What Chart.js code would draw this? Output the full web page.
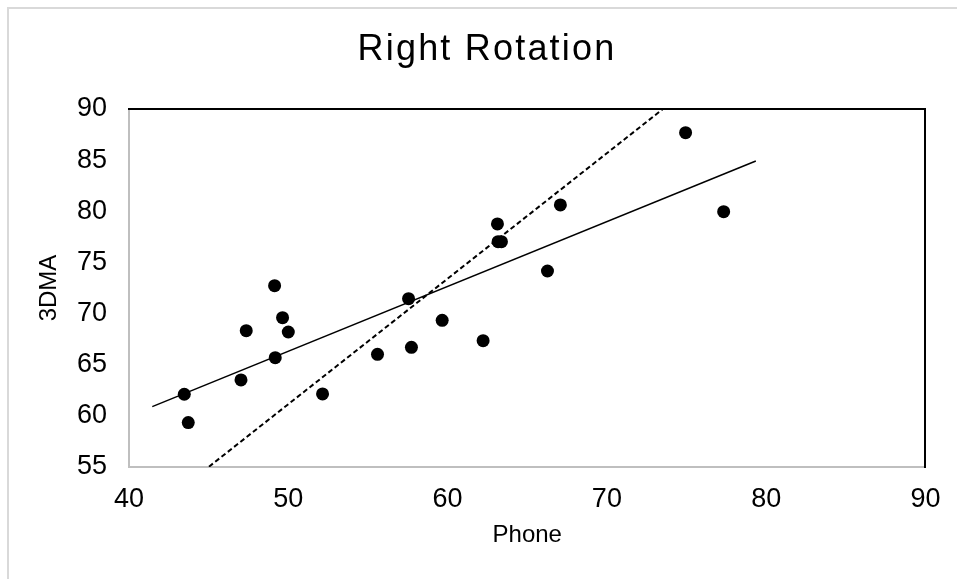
<!DOCTYPE html>
<html>
<head>
<meta charset="utf-8">
<script src="https://cdn.jsdelivr.net/npm/chart.js@4.4.1/dist/chart.umd.min.js"></script>
<style>
html, body { margin: 0; padding: 0; background: #fff; }
#wrap { position: relative; width: 957px; height: 579px; overflow: hidden; }
#frame { position: absolute; left: 7px; top: 7px; width: 1000px; height: 1000px;
  border-left: 2px solid #d9d9d9; border-top: 2px solid #d9d9d9; pointer-events: none; }
canvas { display: block; }
</style>
</head>
<body>
<div id="wrap">
  <canvas id="c" width="957" height="579"></canvas>
  <div id="frame"></div>
</div>
<script>
// Observed data
const phone = [43.47, 43.72, 47.03, 47.36, 49.14, 49.18, 49.64, 50.00, 52.15, 55.60, 57.55,
               57.73, 59.66, 62.23, 63.13, 63.17, 63.38, 66.27, 67.08, 74.94, 77.33];
const dma   = [62.11, 59.34, 63.51, 68.33, 72.73, 65.69, 69.60, 68.20, 62.14, 66.02, 71.46,
               66.70, 69.34, 67.35, 78.76, 77.03, 77.03, 74.16, 80.62, 87.69, 79.96];

// Least-squares trend line (solid) end points
const trendX = [41.46, 79.35];
const trendY = [60.90, 84.92];

// Rotated line (dashed) end points
const rotX = [45.02, 73.52];
const rotY = [55.03, 90.00];

// Axis ticks
const xTicks = [40, 50, 60, 70, 80, 90];
const yTicks = [55, 60, 65, 70, 75, 80, 85, 90];

const titleText = 'Right Rotation';
const xTitle = 'Phone';
const yTitle = '3DMA';

const toXY = (xs, ys) => xs.map((x, i) => ({ x: x, y: ys[i] }));
const FONT = "'Liberation Sans', Arial, sans-serif";

// slightly wider tracking for the chart title only
const titleSpacing = {
  id: 'titleSpacing',
  afterInit(chart) {
    const tb = chart.titleBlock;
    if (!tb) return;
    const orig = tb.draw.bind(tb);
    tb.draw = function () {
      const ctx = chart.ctx;
      ctx.save();
      if ('letterSpacing' in ctx) ctx.letterSpacing = '2.2px';
      orig();
      ctx.restore();
    };
  }
};

new Chart(document.getElementById('c'), {
  type: 'scatter',
  data: {
    datasets: [
      {
        label: 'Data',
        data: toXY(phone, dma),
        backgroundColor: '#000',
        borderWidth: 0,
        pointRadius: 6.5,
        pointHoverRadius: 6.5,
        showLine: false,
        order: 1
      },
      {
        label: 'Trend',
        data: toXY(trendX, trendY),
        showLine: true,
        borderColor: '#000',
        borderWidth: 1.5,
        pointRadius: 0,
        fill: false,
        order: 2
      },
      {
        label: 'Rotation',
        data: toXY(rotX, rotY),
        showLine: true,
        borderColor: '#000',
        borderWidth: 2,
        borderDash: [5, 3],
        pointRadius: 0,
        fill: false,
        order: 3
      }
    ]
  },
  plugins: [titleSpacing],
  options: {
    responsive: false,
    animation: false,
    devicePixelRatio: 1,
    layout: { padding: { left: 17, right: 0, top: 0, bottom: 0 } },
    plugins: {
      legend: { display: false },
      tooltip: { enabled: false },
      title: {
        display: true,
        text: titleText,
        color: '#000',
        font: { family: FONT, size: 36, weight: 'normal', lineHeight: 1.2 },
        padding: { top: 28.2, bottom: 37.6 }
      }
    },
    scales: {
      x: {
        type: 'linear',
        position: 'bottom',
        min: xTicks[0],
        max: xTicks[xTicks.length - 1],
        afterBuildTicks: (s) => { s.ticks = xTicks.map(v => ({ value: v })); },
        ticks: { color: '#000', font: { family: FONT, size: 27 }, padding: 16.5, maxRotation: 0 },
        grid: { display: false, drawTicks: false },
        border: { display: true, color: '#bfbfbf', width: 2 },
        title: {
          display: true, text: xTitle, color: '#000',
          font: { family: FONT, size: 24, lineHeight: 1.2 },
          padding: { top: 0, bottom: 29.3 }
        },
        afterFit: (s) => { s.height = 112; }
      },
      y: {
        type: 'linear',
        position: 'left',
        min: yTicks[0],
        max: yTicks[yTicks.length - 1],
        afterBuildTicks: (s) => { s.ticks = yTicks.map(v => ({ value: v })); },
        ticks: { color: '#000', font: { family: FONT, size: 27 }, padding: 22 },
        grid: { display: false, drawTicks: false },
        border: { display: true, color: '#bfbfbf', width: 2 },
        title: {
          display: true, text: yTitle, color: '#000',
          font: { family: FONT, size: 24, lineHeight: 1.2 },
          padding: { top: 17.6, bottom: 0 }
        },
        afterFit: (s) => { s.width = 112; }
      },
      x2: {
        type: 'linear',
        position: 'top',
        min: xTicks[0],
        max: xTicks[xTicks.length - 1],
        ticks: { display: false },
        grid: { display: false, drawTicks: false },
        border: { display: true, color: '#000', width: 2 },
        afterFit: (s) => { s.height = 0; }
      },
      y2: {
        type: 'linear',
        position: 'right',
        min: yTicks[0],
        max: yTicks[yTicks.length - 1],
        ticks: { display: false },
        grid: { display: false, drawTicks: false },
        border: { display: true, color: '#000', width: 2 },
        afterFit: (s) => { s.width = 31; }
      }
    }
  }
});
</script>
</body>
</html>
